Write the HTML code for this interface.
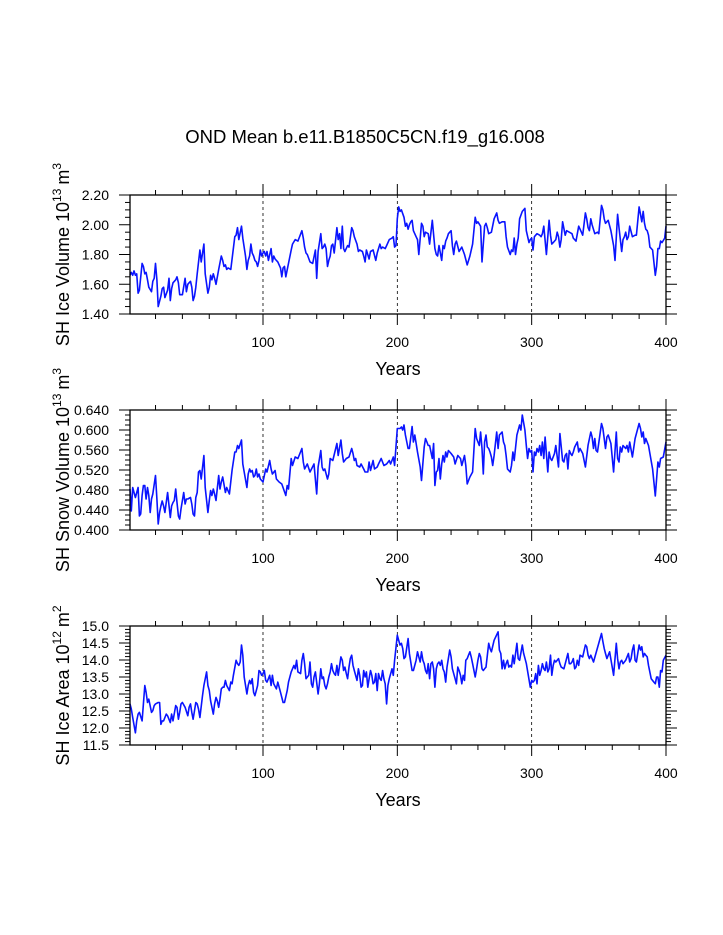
<!DOCTYPE html>
<html><head><meta charset="utf-8"><style>
html,body{margin:0;padding:0;background:#fff;}
svg{display:block;font-family:"Liberation Sans",Arial,sans-serif;}
</style></head><body>
<svg id="chart" width="723" height="935" viewBox="0 0 723 935" xmlns="http://www.w3.org/2000/svg">
<text x="365" y="143" font-size="18.5" text-anchor="middle">OND Mean b.e11.B1850C5CN.f19_g16.008</text>
</svg>
<script>
const iceYears=[1,2,3,4,5,6,7,8,10,11,12,13,14,15,17,18,19,20,21,22,24,25,26,27,29,30,31,32,33,35,36,37,38,40,42,43,44,45,46,47,48,49,50,51,53,54,56,57,59,60,61,62,63,64,65,67,69,70,71,72,73,74,76,79,80,81,82,84,85,87,88,89,90,91,92,93,94,95,96,97,98,99,100,
101,102,103,104,106,107,108,109,111,113,114,115,116,117,119,121,122,124,126,129,130,131,132,133,135,137,139,140,141,143,144,145,146,147,148,149,150,151,152,153,155,156,157,158,159,160,161,163,164,166,167,168,170,171,172,174,175,176,177,179,180,182,184,185,187,188,189,191,192,194,196,197,198,199,200,
201,202,203,205,206,207,208,209,210,211,212,214,215,216,218,219,220,221,223,224,226,228,229,230,231,233,234,235,236,237,238,240,241,242,243,244,246,248,250,252,254,256,258,259,260,262,263,265,266,267,268,270,272,274,275,276,278,280,281,282,284,285,286,287,288,289,290,291,293,295,296,298,299,300,
301,302,304,306,307,308,309,311,313,314,315,316,318,319,320,321,322,323,325,326,328,330,331,333,335,337,338,340,341,342,343,344,345,347,349,350,352,353,354,355,357,359,361,362,364,365,367,368,369,370,371,372,373,375,377,378,380,381,382,383,384,385,386,387,388,390,392,393,394,395,396,397,399,400];
const iceVol=[1.66,1.68,1.66,1.69,1.66,1.67,1.54,1.56,1.74,1.72,1.67,1.68,1.63,1.58,1.55,1.62,1.64,1.74,1.63,1.45,1.52,1.57,1.58,1.51,1.56,1.64,1.49,1.57,1.61,1.63,1.65,1.61,1.53,1.53,1.64,1.55,1.60,1.61,1.62,1.58,1.49,1.52,1.58,1.67,1.83,1.75,1.87,1.67,1.54,1.58,1.66,1.63,1.67,1.64,1.60,1.70,1.79,1.76,1.72,1.73,1.70,1.71,1.70,1.92,1.93,1.98,1.90,1.99,1.91,1.79,1.70,1.76,1.79,1.87,1.81,1.79,1.76,1.75,1.72,1.76,1.83,1.79,1.81,
1.82,1.79,1.82,1.76,1.84,1.75,1.79,1.77,1.75,1.71,1.65,1.71,1.72,1.65,1.74,1.83,1.87,1.90,1.89,1.96,1.91,1.85,1.81,1.80,1.75,1.74,1.83,1.64,1.82,1.94,1.84,1.85,1.87,1.84,1.72,1.76,1.79,1.86,1.87,1.81,1.98,1.90,1.94,1.84,1.99,1.84,1.82,1.86,1.85,1.98,1.96,1.92,1.87,1.82,1.83,1.82,1.79,1.75,1.83,1.77,1.82,1.83,1.76,1.81,1.87,1.84,1.85,1.84,1.86,1.90,1.91,1.92,1.85,1.86,2.04,
2.12,2.09,2.10,2.05,1.99,2.01,1.97,2.00,2.02,2.03,1.96,1.92,1.90,1.80,2.01,1.99,1.92,1.95,1.94,1.87,2.03,1.84,1.80,1.79,1.86,1.76,1.86,1.84,1.89,1.91,1.94,1.96,1.86,1.80,1.87,1.89,1.82,1.85,1.80,1.73,1.79,1.87,2.05,2.01,2.02,1.99,1.75,1.99,2.01,1.98,1.94,1.95,2.04,2.08,2.03,2.01,2.02,2.02,1.92,1.85,1.80,1.83,1.82,1.91,1.80,1.87,1.91,2.04,2.09,2.11,1.96,1.88,1.90,1.91,
1.83,1.92,1.94,1.93,1.92,1.94,1.99,1.80,2.03,1.93,1.87,1.88,1.90,1.95,1.92,1.85,1.90,2.02,1.93,1.96,1.95,1.94,1.91,1.89,1.99,1.95,1.93,2.08,2.04,1.98,1.96,2.04,2.00,1.94,1.95,1.94,2.13,2.10,2.04,2.01,2.03,1.96,1.86,1.76,2.07,1.98,1.82,1.90,1.92,1.95,1.90,1.92,1.99,1.92,1.93,1.93,2.12,2.07,2.02,2.09,2.01,1.97,1.96,1.93,1.85,1.83,1.66,1.72,1.84,1.84,1.89,1.88,1.91,1.99];

const snowYears=[1,2,3,4,5,7,8,9,10,11,12,13,14,15,16,17,18,20,21,22,23,24,25,26,27,29,31,32,33,34,35,36,37,38,39,41,42,43,44,46,47,48,49,50,51,52,53,54,56,57,59,60,61,62,63,64,65,67,68,69,70,72,73,75,77,79,80,81,82,84,85,88,89,90,91,92,93,94,95,96,97,98,100,102,103,105,106,107,109,110,112,114,117,118,119,121,122,124,126,129,130,131,133,135,138,140,141,143,144,145,146,148,149,150,152,155,156,158,159,160,162,164,166,167,168,169,170,172,173,175,176,178,179,180,182,183,185,186,188,190,192,194,195,197,198,200,
202,203,204,205,206,208,209,211,212,213,215,217,218,220,221,222,223,224,226,227,228,229,230,231,232,233,234,235,236,237,238,240,242,243,245,246,247,248,250,251,252,254,256,258,259,261,262,263,264,265,266,267,268,269,270,271,272,274,275,276,278,279,280,281,282,283,284,285,286,287,289,291,292,293,295,296,297,298,299,300,
301,302,303,304,305,306,307,308,309,310,312,313,314,315,317,318,320,321,323,324,325,326,327,328,329,330,331,332,334,335,336,338,340,342,344,345,346,347,348,349,352,353,355,356,357,359,361,363,364,365,366,367,368,370,371,372,373,375,377,380,381,382,383,384,385,387,390,392,393,394,395,396,398,400];
const snowVol=[.482,.438,.485,.475,.465,.485,.428,.432,.469,.489,.489,.462,.485,.469,.435,.462,.472,.509,.462,.412,.435,.448,.458,.448,.435,.475,.425,.448,.455,.459,.482,.455,.428,.422,.442,.475,.452,.462,.462,.465,.452,.432,.428,.465,.475,.516,.519,.502,.549,.485,.435,.459,.479,.469,.482,.472,.459,.509,.482,.496,.506,.475,.485,.472,.520,.556,.556,.569,.563,.580,.532,.485,.512,.522,.516,.519,.506,.509,.522,.506,.512,.502,.496,.522,.516,.539,.522,.512,.519,.502,.496,.492,.469,.489,.482,.543,.529,.546,.543,.563,.536,.522,.532,.516,.532,.472,.526,.559,.526,.519,.522,.502,.512,.543,.539,.573,.549,.580,.553,.536,.543,.546,.563,.553,.539,.543,.529,.526,.532,.522,.516,.516,.536,.519,.539,.522,.526,.532,.543,.529,.532,.539,.532,.546,.529,.603,
.603,.606,.600,.610,.590,.563,.563,.607,.576,.590,.556,.526,.499,.566,.583,.576,.569,.569,.543,.573,.489,.516,.519,.543,.502,.532,.549,.536,.556,.546,.559,.553,.546,.532,.549,.546,.543,.529,.549,.529,.492,.506,.516,.603,.583,.569,.596,.563,.512,.576,.590,.566,.563,.556,.546,.529,.549,.596,.563,.590,.596,.576,.569,.549,.522,.519,.516,.529,.556,.539,.590,.610,.600,.630,.600,.569,.543,.563,.556,.559,
.516,.556,.549,.563,.556,.569,.549,.576,.543,.586,.516,.556,.543,.539,.553,.569,.526,.593,.539,.536,.549,.553,.522,.559,.553,.549,.556,.566,.576,.556,.563,.553,.526,.570,.596,.586,.563,.583,.559,.556,.613,.603,.563,.586,.590,.573,.516,.596,.543,.536,.566,.556,.569,.563,.569,.556,.576,.546,.583,.613,.603,.586,.596,.573,.583,.569,.522,.468,.502,.536,.526,.543,.546,.576];

const areaYears=[1,2,3,5,6,7,8,10,11,12,13,14,15,17,18,19,20,22,23,24,25,26,27,28,29,31,32,33,35,36,37,38,39,40,42,44,45,46,47,48,49,50,51,52,53,55,56,58,59,60,61,63,64,65,66,67,68,69,70,71,72,73,75,76,77,78,80,81,82,83,84,85,86,88,89,90,91,92,93,94,95,96,97,98,99,100,101,102,103,104,105,106,107,108,110,111,113,115,116,118,119,121,123,124,125,126,128,129,130,131,132,134,135,136,137,138,139,141,142,143,144,145,146,147,148,149,150,151,152,153,154,155,156,158,159,160,161,162,163,164,165,166,167,168,170,171,172,173,174,175,176,177,178,179,180,181,182,183,184,185,186,187,188,189,190,191,192,193,194,196,197,198,200,
201,202,203,204,205,206,208,209,211,212,214,215,216,217,218,219,220,221,222,223,224,225,226,227,228,229,230,231,232,233,234,235,236,237,239,240,241,243,244,245,246,247,248,249,250,251,252,253,254,255,256,258,259,260,261,262,263,264,265,266,268,269,270,272,275,276,277,278,279,280,281,282,283,284,285,286,287,289,290,291,293,294,296,299,300,
301,302,303,304,305,306,307,308,309,310,311,312,313,314,315,316,317,318,320,321,322,324,327,328,329,330,331,332,333,334,335,336,338,340,341,342,343,344,346,352,353,354,355,356,358,361,363,364,365,366,367,368,370,372,373,374,375,376,377,378,380,381,382,383,384,385,386,387,389,391,392,393,394,395,396,397,398,400];
const iceArea=[12.71,12.56,12.31,11.86,12.21,12.41,12.46,12.21,12.71,13.25,13.05,12.75,12.85,12.46,12.51,12.66,12.71,12.75,12.75,12.11,12.21,12.21,12.31,12.41,12.36,12.16,12.41,12.21,12.66,12.61,12.26,12.46,12.71,12.75,12.61,12.36,12.61,12.71,12.46,12.26,12.51,12.75,12.71,12.56,12.31,12.95,13.25,13.65,13.25,13.10,12.80,12.41,12.71,12.90,12.80,12.61,12.85,13.15,13.20,13.20,13.40,13.25,13.10,13.35,13.30,13.55,13.99,13.89,13.84,13.94,14.44,14.14,13.50,13.00,13.25,13.40,13.30,13.45,13.05,12.95,13.10,13.25,13.69,13.65,13.55,13.60,13.69,13.40,13.35,13.45,13.55,13.25,13.55,13.30,13.15,13.35,13.05,12.75,12.75,13.10,13.35,13.65,13.84,13.74,13.99,13.65,13.60,13.99,14.19,13.89,13.45,13.55,13.94,13.30,13.20,13.50,13.65,13.00,13.30,13.74,13.45,13.50,13.25,13.15,13.30,13.50,13.65,13.89,13.69,13.60,13.55,13.84,13.55,14.09,13.99,13.69,13.79,13.60,13.45,13.79,14.04,14.14,13.84,13.69,13.40,13.74,13.55,13.20,13.25,13.69,13.50,13.65,13.20,13.45,13.69,13.55,13.30,13.35,13.60,13.10,13.60,13.45,13.40,13.69,13.45,13.30,12.71,13.25,13.45,13.74,13.55,13.99,14.73,
14.58,14.44,14.49,14.34,14.04,14.09,14.63,14.19,13.69,13.69,13.99,14.24,14.09,13.94,14.24,13.99,13.89,13.69,13.60,13.89,13.45,13.89,13.94,13.74,13.20,13.74,13.89,13.94,13.84,13.99,13.74,13.65,13.35,13.79,14.29,14.09,13.74,13.45,13.30,13.79,13.69,13.55,13.30,13.55,13.40,13.99,14.04,14.14,14.24,14.09,13.89,13.50,13.74,13.99,14.19,14.09,13.74,13.69,13.74,13.79,14.49,14.34,14.24,14.58,14.83,14.29,14.19,13.74,13.99,13.74,13.89,13.99,13.79,13.84,13.79,14.14,13.89,14.49,14.04,13.99,14.44,14.20,13.90,13.20,13.40,
13.35,13.40,13.60,13.30,13.84,13.55,13.69,13.89,13.74,13.69,13.94,13.65,13.74,14.14,13.55,13.84,13.99,13.94,14.04,13.89,13.79,13.74,14.19,13.89,13.89,13.94,14.04,13.74,13.79,13.99,13.84,14.14,14.09,14.44,14.39,14.14,14.04,14.14,13.94,14.78,14.54,14.34,14.19,14.04,14.24,13.55,14.49,14.04,13.74,13.94,13.99,13.89,13.99,14.19,13.94,14.04,14.29,14.44,13.99,13.94,14.44,14.29,14.39,14.09,14.19,14.14,14.09,13.84,13.45,13.35,13.30,13.50,13.50,13.20,13.69,13.65,13.99,14.14];

const xTicks=[100,200,300,400];
const p1Ticks=["1.40","1.60","1.80","2.00","2.20"];
const p2Ticks=["0.400","0.440","0.480","0.520","0.560","0.600","0.640"];
const p3Ticks=["11.5","12.0","12.5","13.0","13.5","14.0","14.5","15.0"];

const NS="http://www.w3.org/2000/svg";
const svg=document.getElementById('chart');
const X0=130,X1=666,XMIN=1,XMAX=400;
function xs(v){return X0+(v-XMIN)/(XMAX-XMIN)*(X1-X0);}
function mk(tag,attrs,parent){const e=document.createElementNS(NS,tag);for(const k in attrs)e.setAttribute(k,attrs[k]);(parent||svg).appendChild(e);return e;}

const panels=[
 {key:'ice-volume',top:195,bot:314,ymin:1.40,ymax:2.20,ticks:p1Ticks,minor:0.05,years:iceYears,vals:iceVol,title:'SH Ice Volume 10',exp:'13',unit:'m',uexp:'3'},
 {key:'snow-volume',top:410,bot:530,ymin:0.400,ymax:0.640,ticks:p2Ticks,minor:0.01,years:snowYears,vals:snowVol,title:'SH Snow Volume 10',exp:'13',unit:'m',uexp:'3'},
 {key:'ice-area',top:626,bot:745,ymin:11.5,ymax:15.0,ticks:p3Ticks,minor:0.1,years:areaYears,vals:iceArea,title:'SH Ice Area 10',exp:'12',unit:'m',uexp:'2'}
];

panels.forEach(p=>{
  const g=mk('g',{});
  
  
  const ys=v=>p.bot-(v-p.ymin)/(p.ymax-p.ymin)*(p.bot-p.top);
  [100,200,300].forEach(t=>{
    const l=mk('line',{x1:xs(t),x2:xs(t),y1:p.top,y2:p.bot,stroke:'#000','stroke-width':0.8,'stroke-dasharray':'3,3'},g);
    
    
  });
  for(let t=20;t<=400;t+=20){
    const major=t%100===0, len=major?11:5;
    mk('line',{x1:xs(t),x2:xs(t),y1:p.top,y2:p.top-len,stroke:'#000','stroke-width':1},g);
    mk('line',{x1:xs(t),x2:xs(t),y1:p.bot,y2:p.bot+len,stroke:'#000','stroke-width':1},g);
  }
  xTicks.forEach(t=>{
    const tx=mk('text',{x:xs(t),y:p.bot+33,'font-size':14,'text-anchor':'middle'},g);
    tx.textContent=String(t);
    
    
  });
  const nMin=Math.round((p.ymax-p.ymin)/p.minor);
  for(let i=0;i<=nMin;i++){
    const v=p.ymin+i*p.minor;
    const isMaj=p.ticks.some(s=>Math.abs(parseFloat(s)-v)<1e-6);
    const len=isMaj?11:5;
    mk('line',{x1:X0,x2:X0-len,y1:ys(v),y2:ys(v),stroke:'#000','stroke-width':1},g);
    mk('line',{x1:X1,x2:X1+len,y1:ys(v),y2:ys(v),stroke:'#000','stroke-width':1},g);
  }
  p.ticks.forEach(s=>{
    const tx=mk('text',{x:X0-21,y:ys(parseFloat(s))+5,'font-size':14,'text-anchor':'end'},g);
    tx.textContent=s;
    
    
  });
  const d=p.years.map((yr,i)=>(i?'L':'M')+xs(yr).toFixed(1)+','+ys(p.vals[i]).toFixed(1)).join('');
  const path=mk('path',{d:d,fill:'none',stroke:'#0a14ff','stroke-width':1.6,'stroke-linejoin':'round'},g);
  
  
  const fr=mk('rect',{x:X0,y:p.top,width:X1-X0,height:p.bot-p.top,fill:'none',stroke:'#000','stroke-width':1.3},g);
  
  
  const xt=mk('text',{x:(X0+X1)/2,y:p.bot+61,'font-size':18,'text-anchor':'middle'},g);
  xt.textContent='Years';
  
  
  const cy=(p.top+p.bot)/2;
  const yt=mk('text',{x:0,y:0,'font-size':18,'text-anchor':'middle',transform:'translate(69,'+cy+') rotate(-90)'},g);
  
  
  const t1=mk('tspan',{},yt);t1.textContent=p.title;
  const t2=mk('tspan',{dy:-8,'font-size':12},yt);t2.textContent=p.exp;
  const t3=mk('tspan',{dy:8,dx:4},yt);t3.textContent=p.unit;
  const t4=mk('tspan',{dy:-8,'font-size':12},yt);t4.textContent=p.uexp;
});
</script>
</body></html>
